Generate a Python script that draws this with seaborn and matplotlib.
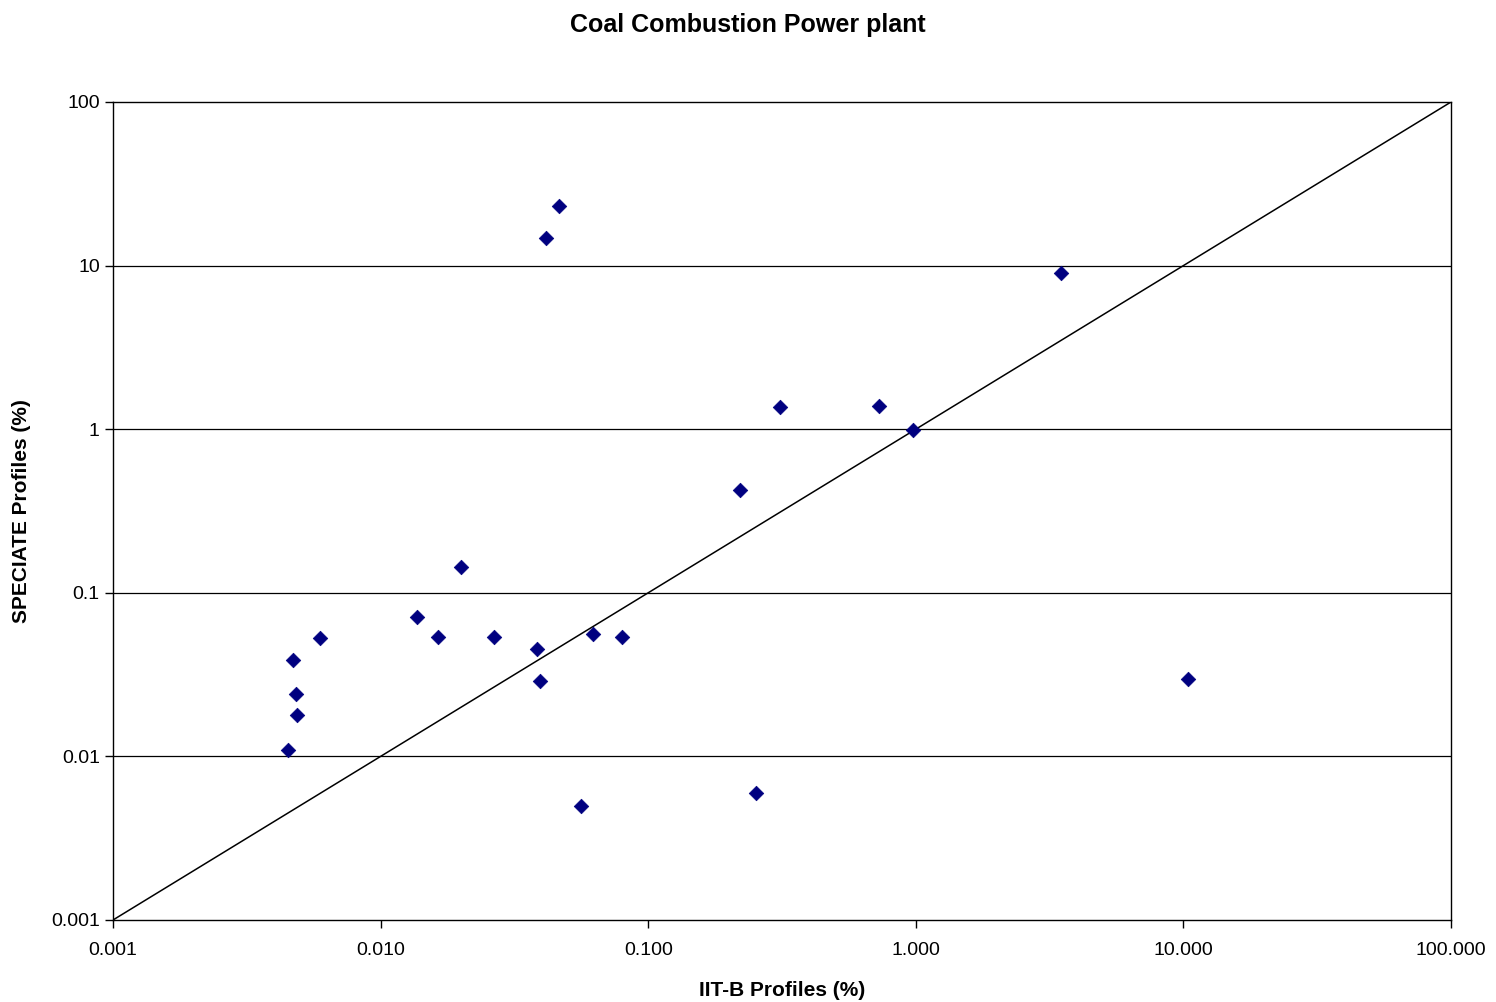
import matplotlib
matplotlib.use("Agg")
import matplotlib.pyplot as plt
import seaborn as sns
import pandas as pd
import numpy as np
from matplotlib.ticker import FixedLocator, FixedFormatter, NullLocator

iitb = [0.0464, 0.0415, 3.49, 0.311, 0.729, 0.976, 0.220, 0.0200, 0.0137, 0.00594,
        0.0164, 0.0265, 0.0622, 0.0798, 0.0384, 0.0394, 0.00471, 0.00483, 0.00487,
        0.00451, 0.0561, 0.253, 10.4]
speciate = [23.1, 14.7, 9.0, 1.37, 1.38, 0.99, 0.425, 0.144, 0.0711, 0.053,
            0.0535, 0.054, 0.056, 0.054, 0.0453, 0.0289, 0.0388, 0.0241, 0.0179,
            0.0109, 0.00498, 0.00597, 0.0297]
x_ticks = [0.001, 0.01, 0.1, 1, 10, 100]
x_labels = ["0.001", "0.010", "0.100", "1.000", "10.000", "100.000"]
y_ticks = [0.001, 0.01, 0.1, 1, 10, 100]
y_labels = ["0.001", "0.01", "0.1", "1", "10", "100"]

sns.set_style("white")
plt.rcParams['font.family'] = ['Liberation Sans', 'DejaVu Sans']
plt.rcParams['text.color'] = 'black'
plt.rcParams['axes.labelcolor'] = 'black'
plt.rcParams['xtick.color'] = 'black'
plt.rcParams['ytick.color'] = 'black'

df = pd.DataFrame({"IIT-B": iitb, "SPECIATE": speciate})

fig = plt.figure(figsize=(14.96, 10.02), dpi=100)
ax = fig.add_axes([113/1496, 1-920/1002, (1451-113)/1496, (920-102)/1002])

ax.set_xscale("log")
ax.set_yscale("log")
ax.set_xlim(0.001, 100)
ax.set_ylim(0.001, 100)

for t in y_ticks[1:-1]:
    ax.axhline(t, color="black", lw=0.9, zorder=1)
ax.plot([0.001, 100], [0.001, 100], color="black", lw=1.1, zorder=2)

sns.scatterplot(data=df, x="IIT-B", y="SPECIATE", marker="D", s=55,
                color="#000080", edgecolor="#000080", linewidth=0.5, ax=ax, zorder=3)

ax.xaxis.set_major_locator(FixedLocator(x_ticks))
ax.xaxis.set_major_formatter(FixedFormatter(x_labels))
ax.yaxis.set_major_locator(FixedLocator(y_ticks))
ax.yaxis.set_major_formatter(FixedFormatter(y_labels))
ax.xaxis.set_minor_locator(NullLocator())
ax.yaxis.set_minor_locator(NullLocator())
ax.tick_params(axis="both", which="major", direction="out", length=6, width=1,
               color="black", labelcolor="black", labelsize=14, bottom=True, left=True)
ax.tick_params(axis="x", pad=10)

for s in ax.spines.values():
    s.set_color("black")
    s.set_linewidth(1)

ax.set_xlabel("IIT-B Profiles (%)", fontsize=15, fontweight="bold", labelpad=16, color="black")
ax.set_ylabel("SPECIATE Profiles (%)", fontsize=15, fontweight="bold", labelpad=14, color="black")
fig.suptitle("Coal Combustion Power plant", fontsize=18, fontweight="bold", y=0.987, color="black")

fig.savefig("out.png", dpi=100)
